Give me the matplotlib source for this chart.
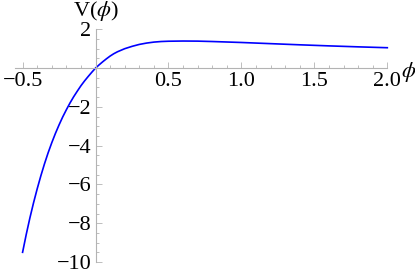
"""
Potential V(phi) curve, Mathematica-style axes crossing at the origin.
"""
import matplotlib
matplotlib.use("Agg")
import matplotlib.pyplot as plt
from matplotlib.ticker import FixedLocator, MultipleLocator

plt.rcParams["font.family"] = ["Liberation Serif", "DejaVu Serif"]
plt.rcParams["mathtext.fontset"] = "stix"

# values
phi = [-0.5, -0.475, -0.45, -0.425, -0.4, -0.375, -0.35, -0.325, -0.3, -0.275,
       -0.25, -0.225, -0.2, -0.175, -0.15, -0.125, -0.1, -0.075, -0.05, -0.025,
       0.0, 0.025, 0.05, 0.075, 0.1, 0.125, 0.15, 0.2, 0.25, 0.3, 0.35, 0.4,
       0.45, 0.5, 0.6, 0.7, 0.8, 0.9, 1.0, 1.2, 1.4, 1.6, 1.8, 2.0]
V = [-9.5, -8.58, -7.73, -6.95, -6.23, -5.56, -4.94, -4.37, -3.85, -3.37,
     -2.93, -2.52, -2.15, -1.8, -1.48, -1.19, -0.91, -0.66, -0.43, -0.21,
     0.0, 0.17, 0.33, 0.48, 0.62, 0.74, 0.84, 1.0, 1.12, 1.22, 1.29, 1.34,
     1.37, 1.385, 1.395, 1.39, 1.37, 1.345, 1.32, 1.26, 1.2, 1.145, 1.095, 1.05]

x_major = [-0.5, 0.5, 1.0, 1.5, 2.0]
x_labels = ["\u22120.5", "0.5", "1.0", "1.5", "2.0"]
y_major = [-10, -8, -6, -4, -2, 2]
y_labels = ["\u221210", "\u22128", "\u22126", "\u22124", "\u22122", "2"]

W, H = 415, 274
fig = plt.figure(figsize=(W / 100, H / 100), dpi=100)
ax = fig.add_axes([15 / W, 12 / H, (387.3 - 15) / W, (262 - 29.3) / H])

ax.plot(phi, V, color="#0000ff", lw=1.2, clip_on=False)

ax.set_xlim(-0.552, 2.0)
ax.set_ylim(-10, 2)

axis_grey = "#b3b3b3"
for side in ["top", "right"]:
    ax.spines[side].set_visible(False)
ax.spines["left"].set_position(("data", 0))
ax.spines["bottom"].set_position(("data", 0))
for side in ["left", "bottom"]:
    ax.spines[side].set_color(axis_grey)
    ax.spines[side].set_linewidth(0.8)

ax.xaxis.set_major_locator(FixedLocator(x_major))
ax.set_xticklabels(x_labels)
ax.xaxis.set_minor_locator(MultipleLocator(0.1))
ax.yaxis.set_major_locator(FixedLocator(y_major))
ax.set_yticklabels(y_labels)
ax.yaxis.set_minor_locator(MultipleLocator(0.5))

ax.tick_params(which="both", direction="in", color=axis_grey, width=0.6,
               labelsize=16, labelcolor="black")
ax.tick_params(which="major", length=4, pad=3)
ax.tick_params(which="minor", length=2)

ax.text(0.005, 2.3, "V($\\phi$)", fontsize=16, ha="center", va="bottom",
        transform=ax.transData, clip_on=False)
ax.text(2.095, -0.2, "$\\phi$", fontsize=16, ha="left", va="center",
        transform=ax.transData, clip_on=False)

fig.savefig("out.png", dpi=100)
